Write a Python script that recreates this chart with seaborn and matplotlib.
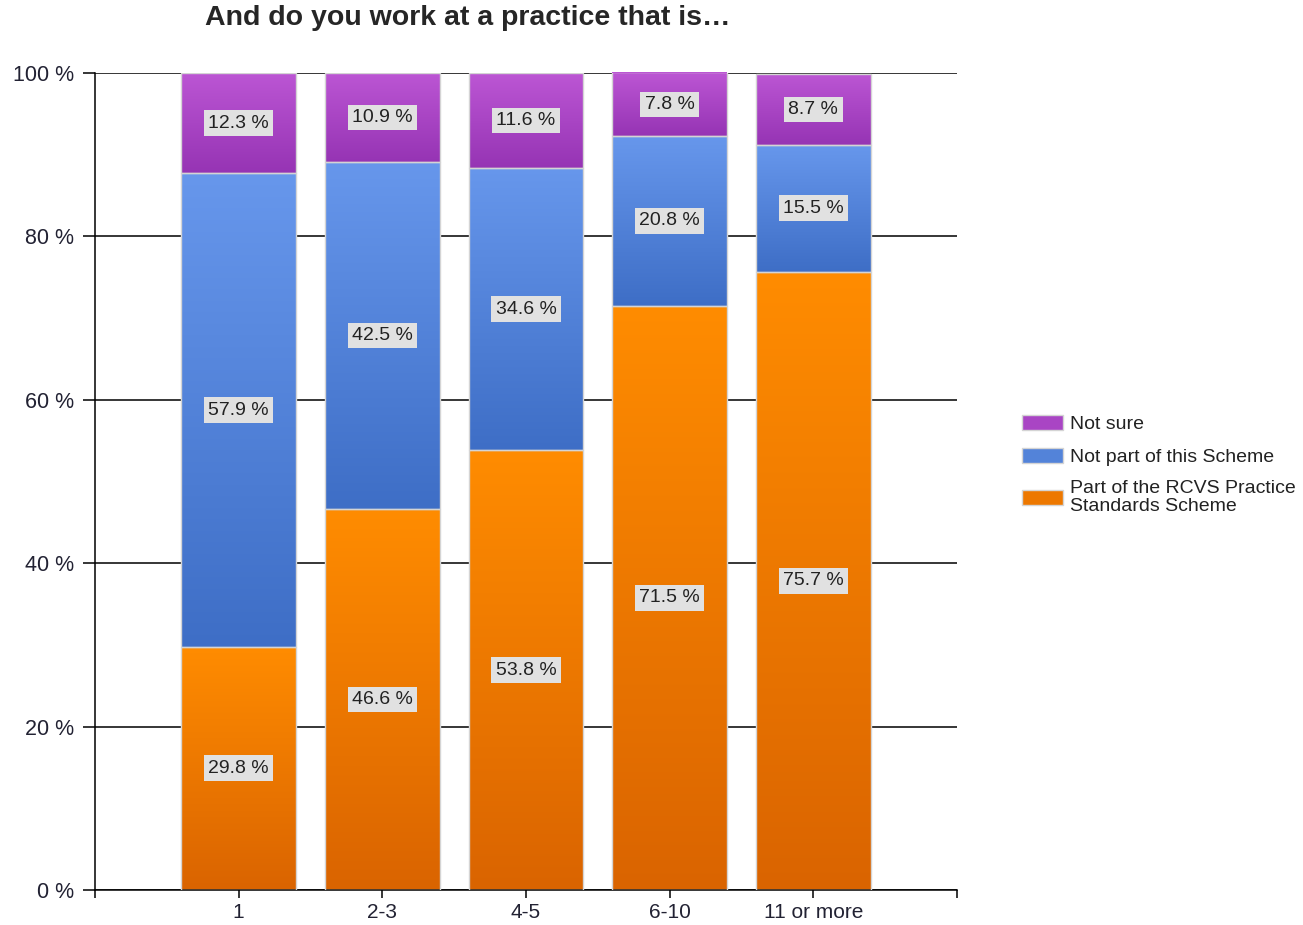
import numpy as np
import matplotlib
matplotlib.use("Agg")
import matplotlib.pyplot as plt
from matplotlib.colors import LinearSegmentedColormap
import seaborn as sns

categories = ["1", "2-3", "4-5", "6-10", "11 or more"]
part_of_scheme = [29.8, 46.6, 53.8, 71.5, 75.7]
not_part = [57.9, 42.5, 34.6, 20.8, 15.5]
not_sure = [12.3, 10.9, 11.6, 7.8, 8.7]
series_names = ["Part of the RCVS Practice\nStandards Scheme", "Not part of this Scheme", "Not sure"]
y_ticks = [0, 20, 40, 60, 80, 100]
title = "And do you work at a practice that is…"

# gradient colours (top, bottom)
grads = [("#FF8C00", "#DA6400"), ("#6797EC", "#3E6EC6"), ("#BC56D4", "#9634B4")]

sns.set_theme(style="white")
plt.rcParams["font.family"] = ["Liberation Sans", "DejaVu Sans"]

fig = plt.figure(figsize=(13.03, 9.25), dpi=100)
ax = fig.add_axes([95 / 1303, 35 / 925, (957 - 95) / 1303, (890 - 73) / 925])

series = [part_of_scheme, not_part, not_sure]
bottom = np.zeros(len(categories))
for vals, name, (top_c, bot_c) in zip(series, series_names, grads):
    mid = tuple((np.array(matplotlib.colors.to_rgb(top_c)) + np.array(matplotlib.colors.to_rgb(bot_c))) / 2)
    sns.barplot(x=categories, y=vals, bottom=bottom.copy(), color=mid, saturation=1,
                width=0.8, ax=ax, edgecolor="#D4D4D4", linewidth=1.0, label=name, zorder=3)
    bottom = bottom + np.array(vals)

handles, labels = ax.get_legend_handles_labels()
leg = fig.legend(handles[::-1], labels[::-1], loc="center left", bbox_to_anchor=(1012 / 1303, 1 - 465 / 925),
                 frameon=False, fontsize=14, handlelength=2.1, handleheight=0.8, labelspacing=0.75,
                 handletextpad=0.4, borderpad=0)
for t in leg.get_texts():
    t.set_color("#222222")
    t.set_linespacing(1.05)
if ax.get_legend():
    ax.get_legend().remove()

# gradient fill clipped to each bar
for cont, (top_c, bot_c), vals in zip(ax.containers, grads, series):
    cmap = LinearSegmentedColormap.from_list("g", [bot_c, top_c])
    grad = np.linspace(0, 1, 256).reshape(-1, 1)
    for patch in cont.patches:
        bb = patch.get_bbox()
        im = ax.imshow(grad, extent=[bb.x0, bb.x1, bb.y0, bb.y1], origin="lower",
                       cmap=cmap, aspect="auto", zorder=2.5, interpolation="bilinear")
        im.set_clip_path(patch)
        patch.set_facecolor("none")
    ax.bar_label(cont, labels=[f"{v} %" for v in vals], label_type="center",
                 fontsize=14, color="#222222", zorder=5,
                 bbox=dict(boxstyle="square,pad=0.22", facecolor="#E1E1E1", edgecolor="none"))

ax.set_xlim(-1, len(categories))
ax.set_ylim(0, 100)
ax.set_xticks(range(-1, len(categories) + 1))
ax.set_xticklabels([""] + categories + [""])
ax.set_yticks(y_ticks)
ax.set_yticklabels([f"{t} %" for t in y_ticks])
ax.set_xlabel("")
ax.set_ylabel("")

ax.grid(axis="y", color="black", linewidth=1.1)
ax.grid(axis="x", visible=False)
ax.set_axisbelow(True)
for s in ["top", "right"]:
    ax.spines[s].set_visible(False)
for s in ["left", "bottom"]:
    ax.spines[s].set_color("black")
    ax.spines[s].set_linewidth(1.1)
ax.tick_params(axis="y", length=9, width=1.1, color="black", pad=6, labelsize=15.5, labelcolor="#222233", left=True)
ax.tick_params(axis="x", length=6, width=1.1, color="black", pad=3, labelsize=15, labelcolor="#222233", bottom=True)

fig.text(468 / 1303, 1 - 18 / 925, title, ha="center", va="center", fontsize=20.5, fontweight="bold")

fig.savefig("out.png", dpi=100)
